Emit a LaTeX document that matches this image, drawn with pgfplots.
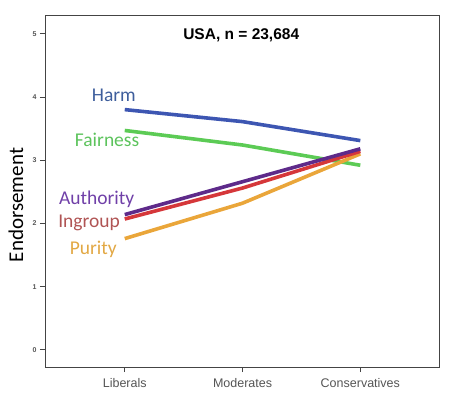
\documentclass[border=0pt]{standalone}
\usepackage{pgfplots}
\pgfplotsset{compat=1.18}
\usepackage{fontspec}
\setmainfont{Liberation Sans}
\newfontfamily\calfont{Carlito}
\definecolor{harmL}{HTML}{3D56B2}
\definecolor{harmT}{HTML}{3E5E9C}
\definecolor{fairL}{HTML}{5CCB55}
\definecolor{fairT}{HTML}{5CC35C}
\definecolor{authL}{HTML}{5E2A8A}
\definecolor{authT}{HTML}{7040A8}
\definecolor{ingL}{HTML}{D5373A}
\definecolor{ingT}{HTML}{B05454}
\definecolor{purL}{HTML}{EAA63A}
\definecolor{purT}{HTML}{E2A844}
\definecolor{axgray}{HTML}{444444}
\definecolor{tkgray}{HTML}{555555}
\begin{document}
\begin{tikzpicture}[x=1pt,y=1pt]
\useasboundingbox (-45,-30) rectangle (412,367);
\begin{axis}[
  at={(0,0)}, anchor=south west,
  scale only axis, width=394pt, height=351pt,
  xmin=-0.677, xmax=2.668, ymin=-0.27, ymax=5.28,
  xtick={0,1,2}, xticklabels={Liberals,Moderates,Conservatives},
  ytick={0,1,2,3,4,5},
  xtick pos=bottom, ytick pos=left,
  tick align=outside, major tick length=5pt,
  tick style={axgray, line width=0.9pt},
  axis line style={axgray, line width=1pt},
  tick label style={tkgray},
  xticklabel style={font=\fontsize{12.5}{14}\selectfont, yshift=-3pt},
  yticklabel style={font=\fontsize{7}{8}\selectfont\bfseries},
  /pgf/number format/assume math mode=true,
  ylabel={\calfont\fontsize{21}{24}\selectfont Endorsement},
  ylabel style={at={(axis description cs:-0.0736,0.4615)}, anchor=center},
  clip=false,
  every axis plot/.append style={line width=3.6pt, line join=round},
]
\addplot[harmL] coordinates {(0,3.80) (1,3.61) (2,3.31)};
\addplot[fairL] coordinates {(0,3.47) (1,3.24) (2,2.92)};
\addplot[purL] coordinates {(0,1.76) (1,2.32) (2,3.10)};
\addplot[ingL] coordinates {(0,2.07) (1,2.56) (2,3.14)};
\addplot[authL] coordinates {(0,2.14) (1,2.66) (2,3.18)};
\node[anchor=base, font=\bfseries\fontsize{15.5}{18}\selectfont] at (axis cs:0.989,4.905) {USA, n = 23,684};
\node[anchor=base, harmT, font=\calfont\fontsize{19.5}{22}\selectfont] at (axis cs:-0.0925,3.929) {Harm};
\node[anchor=base, fairT, font=\calfont\fontsize{19.5}{22}\selectfont] at (axis cs:-0.150,3.217) {Fairness};
\node[anchor=base, authT, font=\calfont\fontsize{19.5}{22}\selectfont] at (axis cs:-0.238,2.294) {Authority};
\node[anchor=base, ingT, font=\calfont\fontsize{19.5}{22}\selectfont] at (axis cs:-0.303,1.941) {Ingroup};
\node[anchor=base, purT, font=\calfont\fontsize{19.5}{22}\selectfont] at (axis cs:-0.267,1.503) {Purity};
\end{axis}
\end{tikzpicture}
\end{document}
